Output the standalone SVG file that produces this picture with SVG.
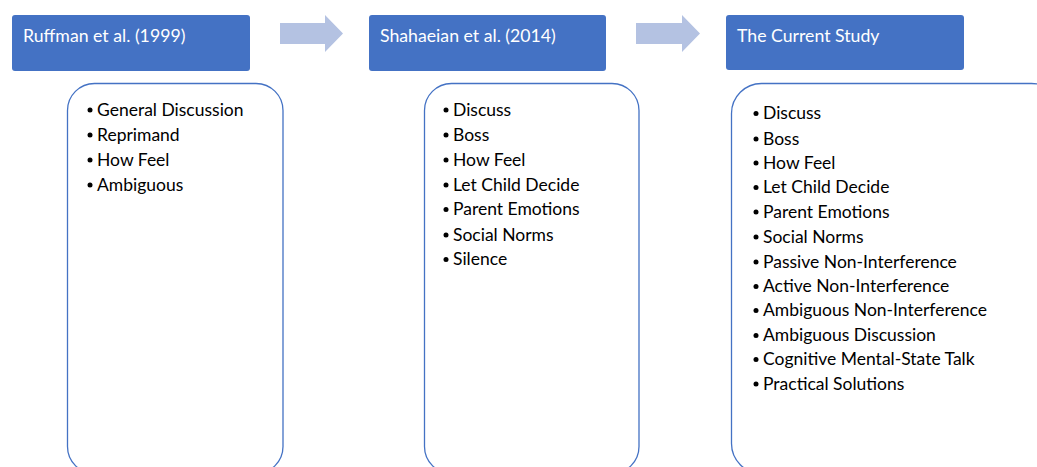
<svg xmlns="http://www.w3.org/2000/svg" width="1037" height="467" viewBox="0 0 1037 467">
<style>
.hdr{fill:#4472C4;}
.hdrt{fill:#FFFFFF;font-family:Lato,"Open Sans","Liberation Sans",sans-serif;font-size:17.7px;}
.box{fill:#FFFFFF;stroke:#4472C4;stroke-width:1.3;}
.arr{fill:#B4C2E2;}
.li{fill:#000000;font-family:Lato,"Open Sans","Liberation Sans",sans-serif;font-size:17.5px;}
.bul{fill:#000000;}
</style>
<rect width="1037" height="467" fill="#FFFFFF"/>
<g id="connectors">
<path class="arr" d="M280,23 H325 V15 L343,33.5 L325,52 V44 H280 Z"/>
<path class="arr" d="M636,23 H682 V15 L700,33.5 L682,52 V44 H636 Z"/>
</g>
<g id="h1"><rect class="hdr" x="12" y="15" width="238" height="56" rx="3"/><text class="hdrt" x="23" y="41.5">Ruffman et al. (1999)</text></g>
<g id="h2"><rect class="hdr" x="369" y="15" width="237" height="56" rx="3"/><text class="hdrt" x="380" y="41.5">Shahaeian et al. (2014)</text></g>
<g id="h3"><rect class="hdr" x="726" y="15" width="238" height="55" rx="3"/><text class="hdrt" x="737" y="41.5">The Current Study</text></g>
<g id="b1">
<rect class="box" x="67.5" y="83.5" width="215.5" height="390" rx="27"/>
<g class="li">
<text x="97" y="115.5">General Discussion</text>
<text x="97" y="140.5">Reprimand</text>
<text x="97" y="165.5">How Feel</text>
<text x="97" y="190.5">Ambiguous</text>
</g>
<g class="bul">
<circle cx="90" cy="110" r="2.5"/><circle cx="90" cy="135" r="2.5"/><circle cx="90" cy="160" r="2.5"/><circle cx="90" cy="185" r="2.5"/>
</g>
</g>
<g id="b2">
<rect class="box" x="424.5" y="83.5" width="214.5" height="390" rx="27"/>
<g class="li">
<text x="453" y="115.5">Discuss</text>
<text x="453" y="140.5">Boss</text>
<text x="453" y="165.5">How Feel</text>
<text x="453" y="190.5">Let Child Decide</text>
<text x="453" y="215">Parent Emotions</text>
<text x="453" y="240.5">Social Norms</text>
<text x="453" y="265">Silence</text>
</g>
<g class="bul">
<circle cx="446" cy="110" r="2.5"/><circle cx="446" cy="135" r="2.5"/><circle cx="446" cy="160" r="2.5"/><circle cx="446" cy="185" r="2.5"/><circle cx="446" cy="209.5" r="2.5"/><circle cx="446" cy="235" r="2.5"/><circle cx="446" cy="259.5" r="2.5"/>
</g>
</g>
<g id="b3">
<rect class="box" x="731.5" y="83.5" width="330" height="390" rx="30"/>
<g class="li">
<text x="763" y="119">Discuss</text>
<text x="763" y="144.5">Boss</text>
<text x="763" y="168.5">How Feel</text>
<text x="763" y="193">Let Child Decide</text>
<text x="763" y="217.5">Parent Emotions</text>
<text x="763" y="242.5">Social Norms</text>
<text x="763" y="267.5">Passive Non-Interference</text>
<text x="763" y="292">Active Non-Interference</text>
<text x="763" y="316">Ambiguous Non-Interference</text>
<text x="763" y="341">Ambiguous Discussion</text>
<text x="763" y="365">Cognitive Mental-State Talk</text>
<text x="763" y="389.5">Practical Solutions</text>
</g>
<g class="bul">
<circle cx="756" cy="113.5" r="2.5"/><circle cx="756" cy="139" r="2.5"/><circle cx="756" cy="163" r="2.5"/><circle cx="756" cy="187.5" r="2.5"/><circle cx="756" cy="212" r="2.5"/><circle cx="756" cy="237" r="2.5"/><circle cx="756" cy="262" r="2.5"/><circle cx="756" cy="286.5" r="2.5"/><circle cx="756" cy="310.5" r="2.5"/><circle cx="756" cy="335.5" r="2.5"/><circle cx="756" cy="359.5" r="2.5"/><circle cx="756" cy="384" r="2.5"/>
</g>
</g>
</svg>
